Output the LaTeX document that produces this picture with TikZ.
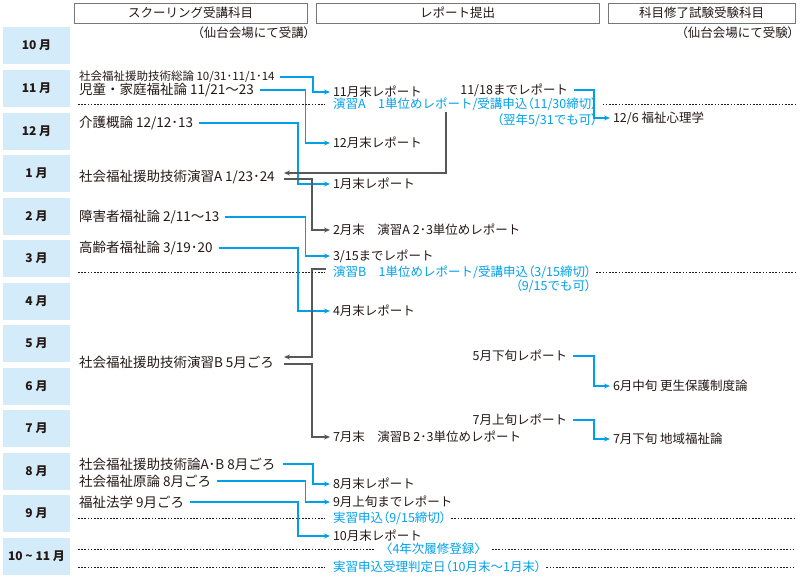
\documentclass[tikz,border=0pt]{standalone}
\usepackage{fontspec}
\setmainfont{Noto Sans CJK JP}
\newfontfamily\jpp[RawFeature=+palt]{Noto Sans CJK JP}
\newcommand\jlp{{\jpp （}}
\newcommand\jrp{{\jpp ）}}
\usetikzlibrary{arrows.meta,calc}
\definecolor{cy}{RGB}{0,160,233}
\definecolor{gl}{RGB}{89,87,87}
\definecolor{mb}{RGB}{212,236,249}
\definecolor{tx}{RGB}{35,24,21}
\definecolor{hb}{RGB}{120,120,120}
\begin{document}
\begin{tikzpicture}[x=1pt,y=-1pt,
  every node/.style={inner sep=0pt, outer sep=0pt, text=tx, font=\fontsize{12.5}{14}\selectfont},
  mon/.style={fill=mb, minimum width=67pt, minimum height=37pt, anchor=north west, font=\bfseries\fontsize{12}{14}\selectfont},
  hdr/.style={draw=hb, line width=0.9pt, fill=white, anchor=north west, minimum height=20pt, font=\fontsize{12.5}{14}\selectfont},
  lt/.style={anchor=west},
  st/.style={anchor=west, font=\fontsize{13.5}{15}\selectfont},
  rt/.style={anchor=east},
  bt/.style={anchor=west, text=cy},
  bl/.style={draw=cy, line width=1.1pt, -{Stealth[length=6pt,width=5pt]}},
  gy/.style={draw=gl, line width=1.1pt, -{Stealth[length=6pt,width=5pt]}},
  dl/.style={draw=tx, line width=0.8pt, dash pattern=on 1.6pt off 1.6pt},
]
\useasboundingbox (0,0) rectangle (800,584);

% headers
\node[hdr, minimum width=233pt] (h1) at (74,3) {スクーリング受講科目};
\node[hdr, minimum width=283pt] (h2) at (316,3) {レポート提出};
\node[hdr, minimum width=187pt] (h3) at (608,3) {科目修了試験受験科目};
\node[rt] (n1) at (310,33) {\jlp 仙台会場にて受講\jrp};
\node[rt] (n2) at (794,33) {\jlp 仙台会場にて受験\jrp};

% months
\node[mon] (m1) at (3,27) {10 月};
\node[mon] (m2) at (3,70) {11 月};
\node[mon] (m3) at (3,113) {12 月};
\node[mon] (m4) at (3,155) {1 月};
\node[mon] (m5) at (3,198) {2 月};
\node[mon] (m6) at (3,240) {3 月};
\node[mon] (m7) at (3,283) {4 月};
\node[mon] (m8) at (3,325) {5 月};
\node[mon] (m9) at (3,368) {6 月};
\node[mon] (m10) at (3,410) {7 月};
\node[mon] (m11) at (3,453) {8 月};
\node[mon] (m12) at (3,495) {9 月};
\node[mon] (m13) at (3,538) {10 \textasciitilde{} 11 月};

% schooling subjects
\node[lt, font=\fontsize{11.5}{13}\selectfont] (s1) at (79,77) {社会福祉援助技術総論 10/31･11/1･14};
\node[st] (s2) at (79,90) {児童・家庭福祉論 11/21〜23};
\node[st] (s3) at (79,123) {介護概論 12/12･13};
\node[st] (s4) at (79,177) {社会福祉援助技術演習A 1/23･24};
\node[st] (s5) at (79,217) {障害者福祉論 2/11〜13};
\node[st] (s6) at (79,248) {高齢者福祉論 3/19･20};
\node[st] (s7) at (79,362) {社会福祉援助技術演習B 5月ごろ};
\node[st] (s8) at (79,464) {社会福祉援助技術論A･B 8月ごろ};
\node[st] (s9) at (79,481) {社会福祉原論 8月ごろ};
\node[st] (s10) at (79,502) {福祉法学 9月ごろ};

% reports
\node[lt] (r1) at (333,92) {11月末レポート};
\node[bt] (bA) at (333,104) {演習A　1単位めレポート/受講申込\jlp 11/30締切\jrp};
\node[rt, text=cy] (bA2) at ($(bA.east)+(0,16)$) {\jlp 翌年5/31でも可\jrp};
\node[lt] (r2) at (333,143) {12月末レポート};
\node[lt] (r3) at (333,184) {1月末レポート};
\node[lt] (r4) at (333,230) {2月末　演習A 2･3単位めレポート};
\node[lt] (r5) at (333,256) {3/15までレポート};
\node[bt] (bB) at (333,272) {演習B　1単位めレポート/受講申込\jlp 3/15締切\jrp};
\node[rt, text=cy] (bB2) at ($(bB.east)+(0,14)$) {\jlp 9/15でも可\jrp};
\node[lt] (r6) at (333,311) {4月末レポート};
\node[lt] (r7) at (333,437) {7月末　演習B 2･3単位めレポート};
\node[lt] (r8) at (333,484) {8月末レポート};
\node[lt] (r9) at (333,502) {9月上旬までレポート};
\node[bt] (bC) at (333,518) {実習申込\jlp 9/15締切\jrp};
\node[lt] (r10) at (333,536) {10月末レポート};
\node[bt] (bD) at (380,549) {〈4年次履修登録〉};
\node[bt] (bE) at (333,567) {実習申込受理判定日\jlp 10月末〜1月末\jrp};

% right area
\node[rt] (q1) at (568,90) {11/18までレポート};
\node[lt] (e1) at (613,118) {12/6 福祉心理学};
\node[rt] (q2) at (567,356) {5月下旬レポート};
\node[lt] (e2) at (613,386) {6月中旬 更生保護制度論};
\node[rt] (q3) at (567,420) {7月上旬レポート};
\node[lt] (e3) at (613,439) {7月下旬 地域福祉論};

% helper x positions
\coordinate (cA) at (313,0);
\coordinate (cB) at (305.5,0);
\coordinate (cC) at (298,0);
\coordinate (cG) at (312,0);
\coordinate (cH) at (446,0);
\coordinate (cR) at (594,0);
\coordinate (tipx) at (284,0);
\coordinate (dL) at (78,0);
\coordinate (dR) at (795,0);

% blue connectors
\draw[bl] ([xshift=5pt]s1.east) -| (cA |- r1.west) -- ([xshift=-3pt]r1.west);
\draw[bl] ([xshift=6pt]s2.east) -| (cB |- r2.west) -- ([xshift=-3pt]r2.west);
\draw[bl] ([xshift=6pt]s3.east) -| (cC |- r3.west) -- ([xshift=-3pt]r3.west);
\draw[bl] ([xshift=6pt]s5.east) -| (cB |- r5.west) -- ([xshift=-3pt]r5.west);
\draw[bl] ([xshift=6pt]s6.east) -| (cC |- r6.west) -- ([xshift=-3pt]r6.west);
\draw[bl] ([xshift=8pt]s8.east) -| (cA |- r8.west) -- ([xshift=-3pt]r8.west);
\draw[bl] ([xshift=6pt]s9.east) -| (cB |- r9.west) -- ([xshift=-3pt]r9.west);
\draw[bl] ([xshift=6pt]s10.east) -| (cC |- r10.west) -- ([xshift=-3pt]r10.west);
\draw[bl] ([xshift=6pt]q1.east) -| (cR |- e1.west) -- ([xshift=-3pt]e1.west);
\draw[bl] ([xshift=6pt]q2.east) -| (cR |- e2.west) -- ([xshift=-3pt]e2.west);
\draw[bl] ([xshift=6pt]q3.east) -| (cR |- e3.west) -- ([xshift=-3pt]e3.west);

% gray connectors
\draw[gy] ($(cH |- bA.south)+(0,2)$) |- ($(tipx |- s4.east)+(0,-4)$);
\draw[gy] ($(tipx |- s4.east)+(0,2)$) -| (cG |- r4.west) -- ([xshift=-3pt]r4.west);
\draw[gy] ([xshift=-7pt,yshift=3pt]bB.west) -| ($(cG |- s7.east)+(0,-5)$) -- ($(tipx |- s7.east)+(0,-5)$);
\draw[gy] ($(tipx |- s7.east)+(0,2)$) -| (cG |- r7.west) -- ([xshift=-3pt]r7.west);

% dotted lines
\draw[dl] (dL |- bA.west) -- ([xshift=-8pt]bA.west);
\draw[dl] ([xshift=5pt]bA.east) -- (dR |- bA.east);
\draw[dl] (dL |- bB.west) -- ([xshift=-8pt]bB.west);
\draw[dl] ([xshift=5pt]bB.east) -- (dR |- bB.east);
\draw[dl] (dL |- bC.west) -- ([xshift=-8pt]bC.west);
\draw[dl] ([xshift=5pt]bC.east) -- (dR |- bC.east);
\draw[dl] (dL |- bD.west) -- ([xshift=-5pt]bD.west);
\draw[dl] ([xshift=5pt]bD.east) -- (dR |- bD.east);
\draw[dl] (dL |- bE.west) -- ([xshift=-8pt]bE.west);
\draw[dl] ([xshift=5pt]bE.east) -- (dR |- bE.east);
\end{tikzpicture}
\end{document}
